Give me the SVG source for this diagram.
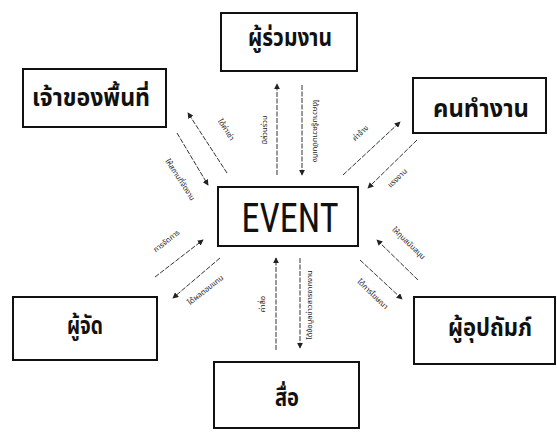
<svg xmlns="http://www.w3.org/2000/svg" width="557" height="439" viewBox="0 0 557 439">
<defs>
<style>
.box{fill:#fff;stroke:#111;stroke-width:2}
.lbl{font-family:"Noto Sans Thai","Noto Sans","DejaVu Sans",sans-serif;font-size:24px;font-weight:bold;fill:#111;text-anchor:middle}
.ev{font-family:"Liberation Sans Narrow","Roboto Condensed","Liberation Sans",sans-serif;font-size:40px;fill:#111;text-anchor:middle}
.con{stroke:#333;stroke-width:1;fill:none;stroke-dasharray:5 1.5}
.sm{font-family:"Noto Sans Thai","Noto Sans","DejaVu Sans",sans-serif;font-size:7.5px;fill:#222;text-anchor:middle}
</style>
<marker id="ah" viewBox="0 0 8 8" refX="7" refY="4" markerWidth="6" markerHeight="6" orient="auto" markerUnits="userSpaceOnUse">
<path d="M0,0 L8,4 L0,8 z" fill="#222"/>
</marker>
</defs>
<rect width="557" height="439" fill="#fff"/>
<g id="connectors">
<line class="con" x1="277" y1="175" x2="277" y2="84" marker-end="url(#ah)"/>
<line class="con" x1="302" y1="85" x2="302" y2="175" marker-end="url(#ah)"/>
<line class="con" x1="276" y1="350" x2="276" y2="258" marker-end="url(#ah)"/>
<line class="con" x1="300" y1="258" x2="300" y2="348" marker-end="url(#ah)"/>
<line class="con" x1="227" y1="173" x2="188" y2="113" marker-end="url(#ah)"/>
<line class="con" x1="177" y1="133" x2="208" y2="185" marker-end="url(#ah)"/>
<line class="con" x1="343" y1="175" x2="400" y2="122" marker-end="url(#ah)"/>
<line class="con" x1="417" y1="140" x2="368" y2="188" marker-end="url(#ah)"/>
<line class="con" x1="418" y1="280" x2="377" y2="240" marker-end="url(#ah)"/>
<line class="con" x1="360" y1="260" x2="402" y2="299" marker-end="url(#ah)"/>
<line class="con" x1="155" y1="277" x2="203" y2="240" marker-end="url(#ah)"/>
<line class="con" x1="220" y1="258" x2="173" y2="298" marker-end="url(#ah)"/>
<text class="sm" transform="translate(267,130) rotate(-90)">มีส่วนร่วม</text>
<text class="sm" transform="translate(313,131) rotate(90)">ได้ความรู้ความบันเทิง</text>
<text class="sm" transform="translate(265,304) rotate(-90)">ค่าสื่อ</text>
<text class="sm" transform="translate(312,305) rotate(-90)">ได้ข้อมูลข่าวสารจากงาน</text>
<text class="sm" transform="translate(224,131) rotate(57)">ได้ค่าเช่า</text>
<text class="sm" transform="translate(178,181) rotate(57)">ให้สถานที่จัดงาน</text>
<text class="sm" transform="translate(362,135) rotate(-43)">ค่าจ้าง</text>
<text class="sm" transform="translate(399,180) rotate(-43)">แรงงาน</text>
<text class="sm" transform="translate(407,245) rotate(44)">ให้ทุนสนับสนุน</text>
<text class="sm" transform="translate(371,296) rotate(44)">ได้การโฆษณา</text>
<text class="sm" transform="translate(168,243) rotate(-38)">การจัดการ</text>
<text class="sm" transform="translate(207,292) rotate(-38)">ได้ผลตอบแทน</text>
</g>
<g id="event"><rect class="box" x="218" y="187" width="140" height="59"/><text class="ev" x="290" y="232" textLength="97" lengthAdjust="spacingAndGlyphs">EVENT</text></g>
<g id="partners"><rect class="box" x="221" y="13" width="136" height="58"/><text class="lbl" x="290" y="46" textLength="84" lengthAdjust="spacingAndGlyphs">ผู้ร่วมงาน</text></g>
<g id="owner"><rect class="box" x="23" y="69" width="143" height="58"/><text class="lbl" x="91" y="106" textLength="118" lengthAdjust="spacingAndGlyphs">เจ้าของพื้นที่</text></g>
<g id="staff"><rect class="box" x="413" y="78" width="133" height="55"/><text class="lbl" x="481" y="117" textLength="96" lengthAdjust="spacingAndGlyphs">คนทำงาน</text></g>
<g id="organizer"><rect class="box" x="13" y="297" width="144" height="63"/><text class="lbl" x="85" y="334" textLength="36" lengthAdjust="spacingAndGlyphs">ผู้จัด</text></g>
<g id="media"><rect class="box" x="214" y="362" width="145" height="66"/><text class="lbl" x="287" y="406" textLength="24" lengthAdjust="spacingAndGlyphs">สื่อ</text></g>
<g id="sponsor"><rect class="box" x="414" y="297" width="141" height="67"/><text class="lbl" x="490" y="336" textLength="84" lengthAdjust="spacingAndGlyphs">ผู้อุปถัมภ์</text></g>
</svg>
